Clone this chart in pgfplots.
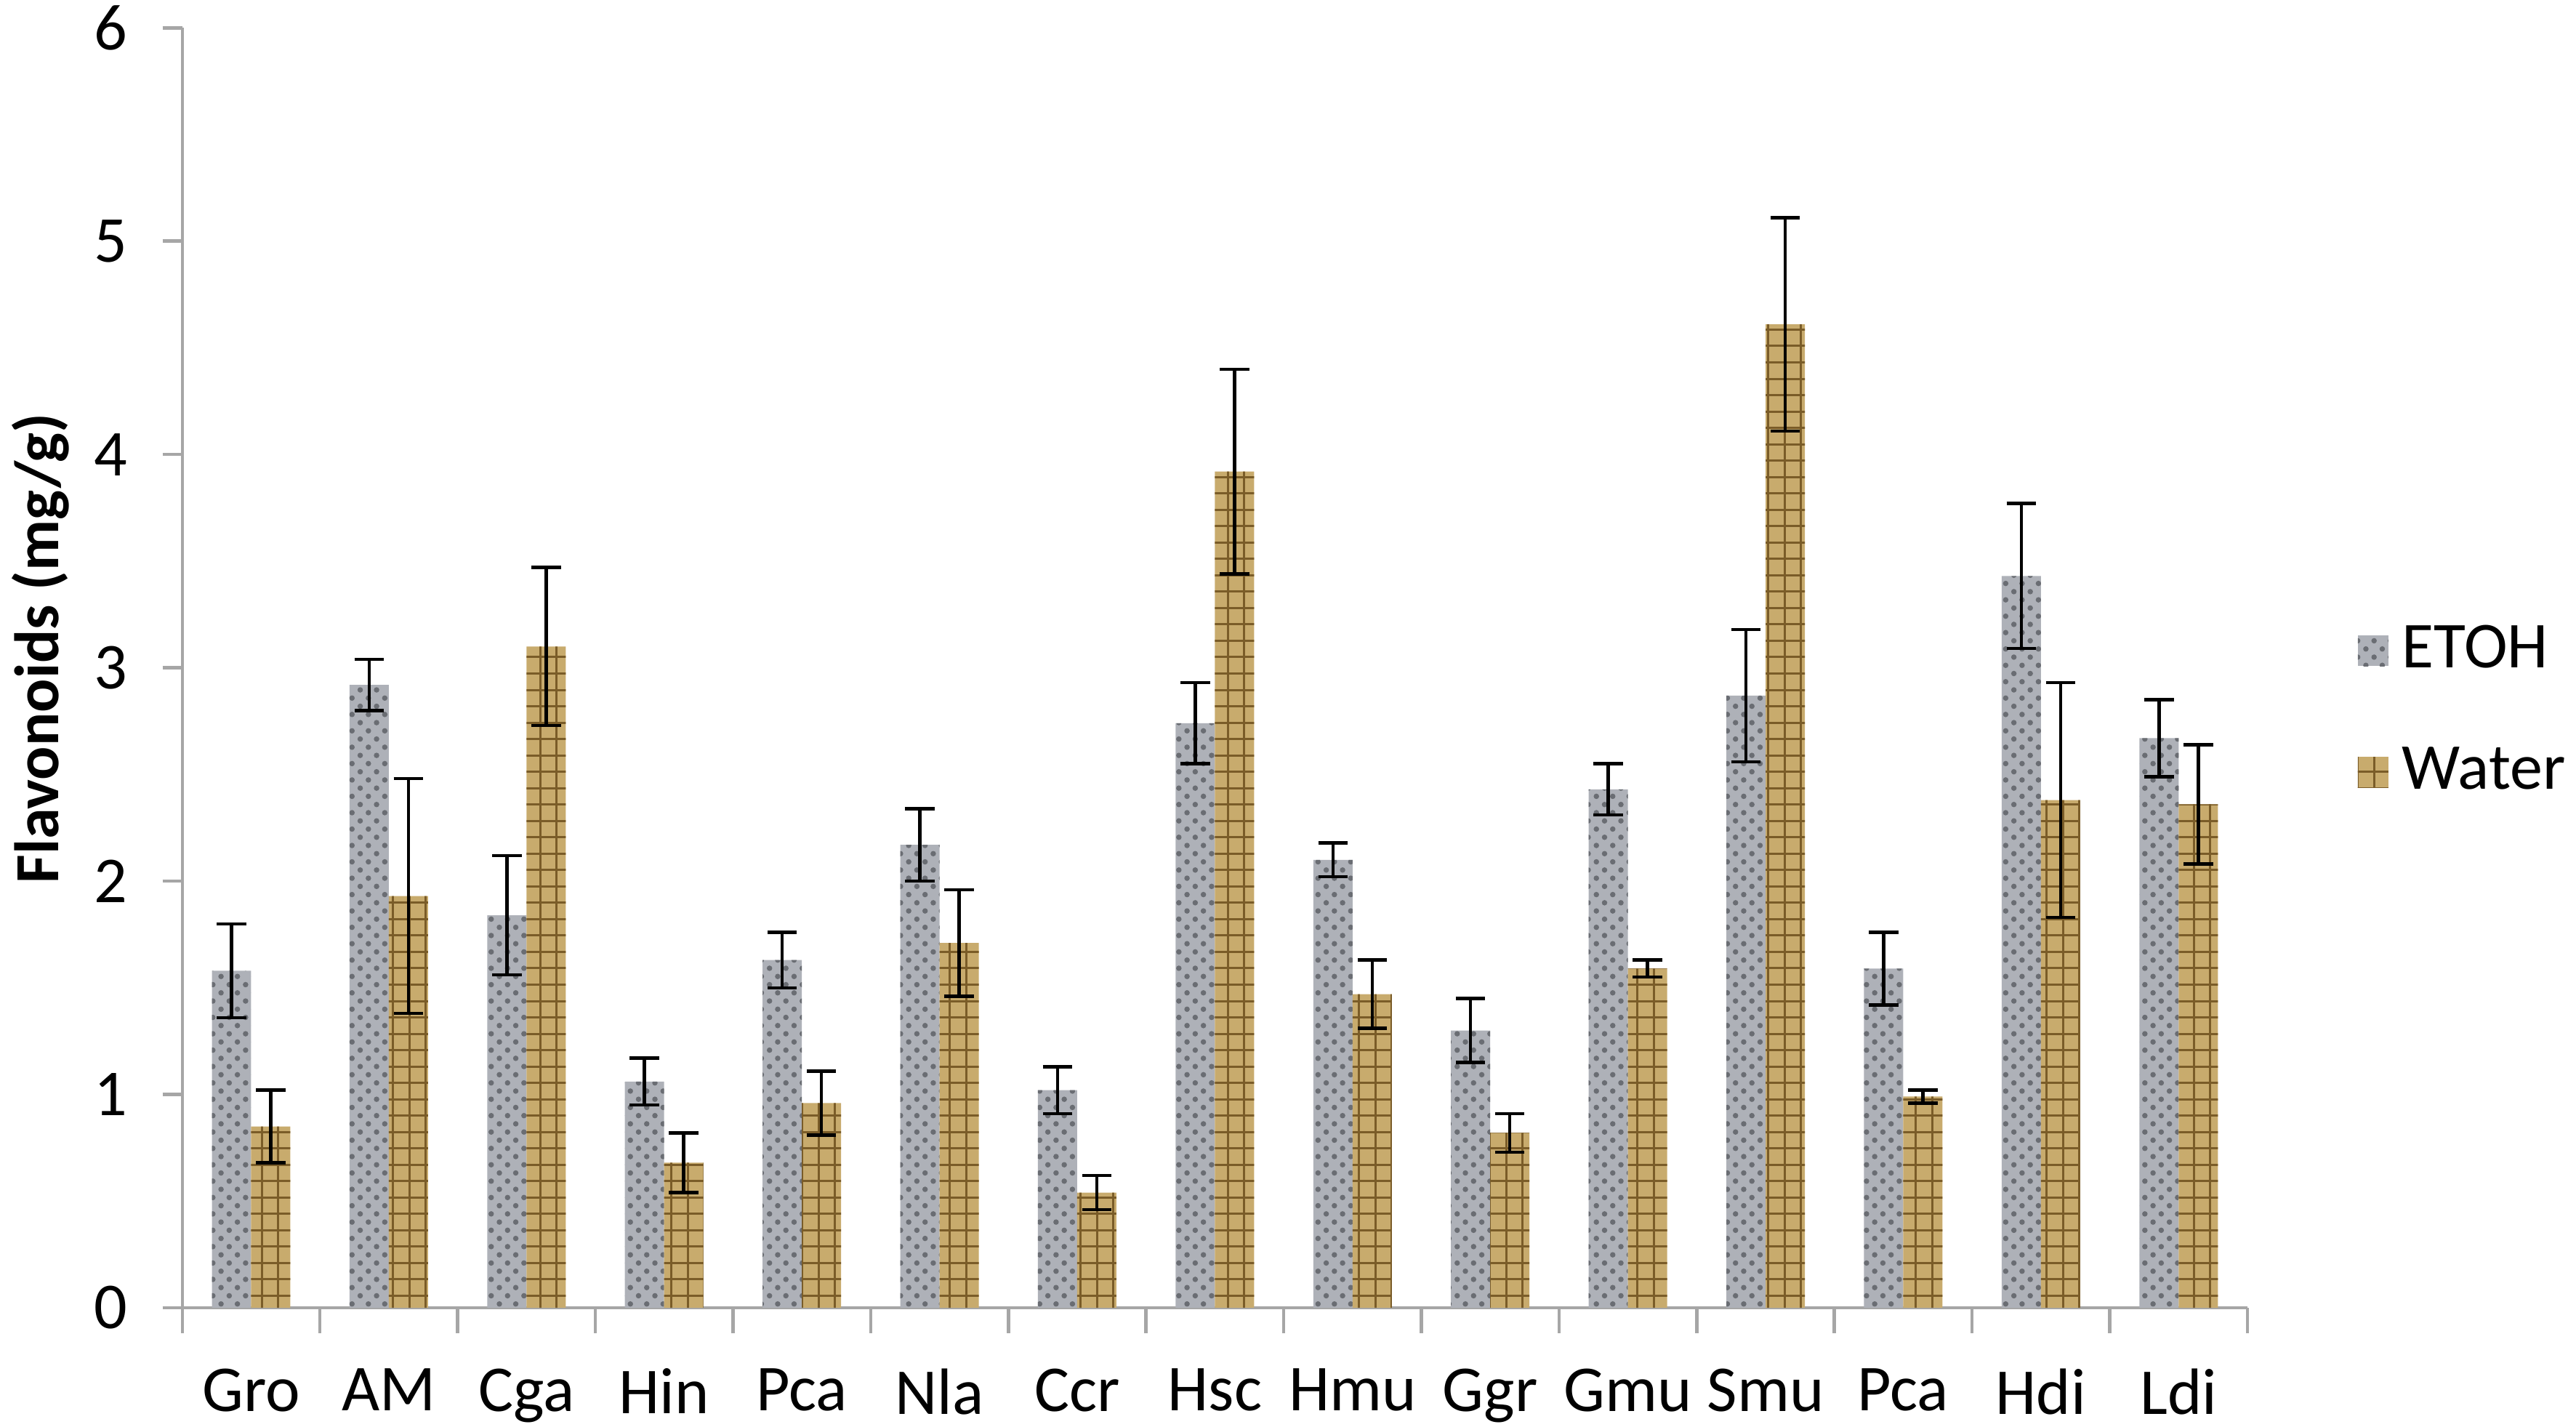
\documentclass[border=0pt]{standalone}
\usepackage{pgfplots}
\pgfplotsset{compat=1.18}
\usepackage{pgfplotstable}
\usepackage{fontspec}
\setmainfont{Carlito}
\usetikzlibrary{patterns}
\definecolor{axgray}{HTML}{A6A6A6}
\definecolor{etoh}{HTML}{AEB1B8}
\definecolor{etohdark}{HTML}{6A6D73}
\definecolor{water}{HTML}{C8AB6D}
\definecolor{waterdark}{HTML}{7A5C28}

\pgfplotstableread{
x y e
0 1.58 0.22
1 2.92 0.12
2 1.84 0.28
3 1.06 0.11
4 1.63 0.13
5 2.17 0.17
6 1.02 0.11
7 2.74 0.19
8 2.10 0.08
9 1.30 0.15
10 2.43 0.12
11 2.87 0.31
12 1.59 0.17
13 3.43 0.34
14 2.67 0.18
}\etohdata

\pgfplotstableread{
x y e
0 0.85 0.17
1 1.93 0.55
2 3.10 0.37
3 0.68 0.14
4 0.96 0.15
5 1.71 0.25
6 0.54 0.08
7 3.92 0.48
8 1.47 0.16
9 0.82 0.09
10 1.59 0.04
11 4.61 0.50
12 0.99 0.03
13 2.38 0.55
14 2.36 0.28
}\waterdata

\begin{document}
\begin{tikzpicture}
\begin{axis}[
  scale only axis,
  width=378.4pt, height=234.5pt,
  xmin=-0.5, xmax=14.5, ymin=0, ymax=6,
  ybar=0pt, bar width=0.285,
  axis x line*=bottom, axis y line*=left,
  axis line style={axgray, line width=0.6pt},
  tick align=outside,
  major tick length=3.6pt,
  tick style={axgray, line width=0.6pt},
  ytick={0,1,2,3,4,5,6},
  xtick={0,...,14},
  xticklabels={Gro,AM,Cga,Hin,Pca,Nla,Ccr,Hsc,Hmu,Ggr,Gmu,Smu,Pca,Hdi,Ldi},
  major x tick style={draw=none},
  extra x ticks={-0.5,0.5,...,14.5},
  extra x tick labels={},
  extra x tick style={major tick length=4.6pt, major x tick style={draw=axgray, line width=0.6pt}},
  /pgf/number format/assume math mode=true,
  tick label style={font=\fontsize{12}{14}\selectfont, black},
  xticklabel style={yshift=-4pt},
  yticklabel style={xshift=-3pt},
  ylabel={Flavonoids (mg/g)},
  every axis y label/.style={at={(axis description cs:-0.0687,0.515)}, rotate=90, anchor=center, font=\fontsize{11.5}{13}\selectfont\bfseries},
  legend style={at={(axis description cs:1.045,0.466)}, anchor=west, draw=none, fill=none,
    font=\fontsize{12}{14}\selectfont, row sep=8pt,
    nodes={inner sep=2.5pt}},
  legend image code/.code={\fill[#1] (0pt,-2.8pt) rectangle (5.6pt,2.8pt);},
  legend cell align=left,
]
\addplot[fill=etoh, draw=none, postaction={pattern=crosshatch dots, pattern color=etohdark},
  error bars/.cd, y dir=both, y explicit,
  error bar style={black, line width=0.6pt},
  error mark options={rotate=90, mark size=2.7pt, black, line width=0.6pt}]
  table[x=x, y=y, y error=e]{\etohdata};
\addplot[fill=water, draw=none, postaction={pattern=grid, pattern color=waterdark},
  error bars/.cd, y dir=both, y explicit,
  error bar style={black, line width=0.6pt},
  error mark options={rotate=90, mark size=2.7pt, black, line width=0.6pt}]
  table[x=x, y=y, y error=e]{\waterdata};
\legend{ETOH, Water}
\end{axis}
\pgfresetboundingbox
\path[use as bounding box] (-33.4pt,-21.8pt) rectangle (438.6pt,239.6pt);
\end{tikzpicture}
\end{document}
